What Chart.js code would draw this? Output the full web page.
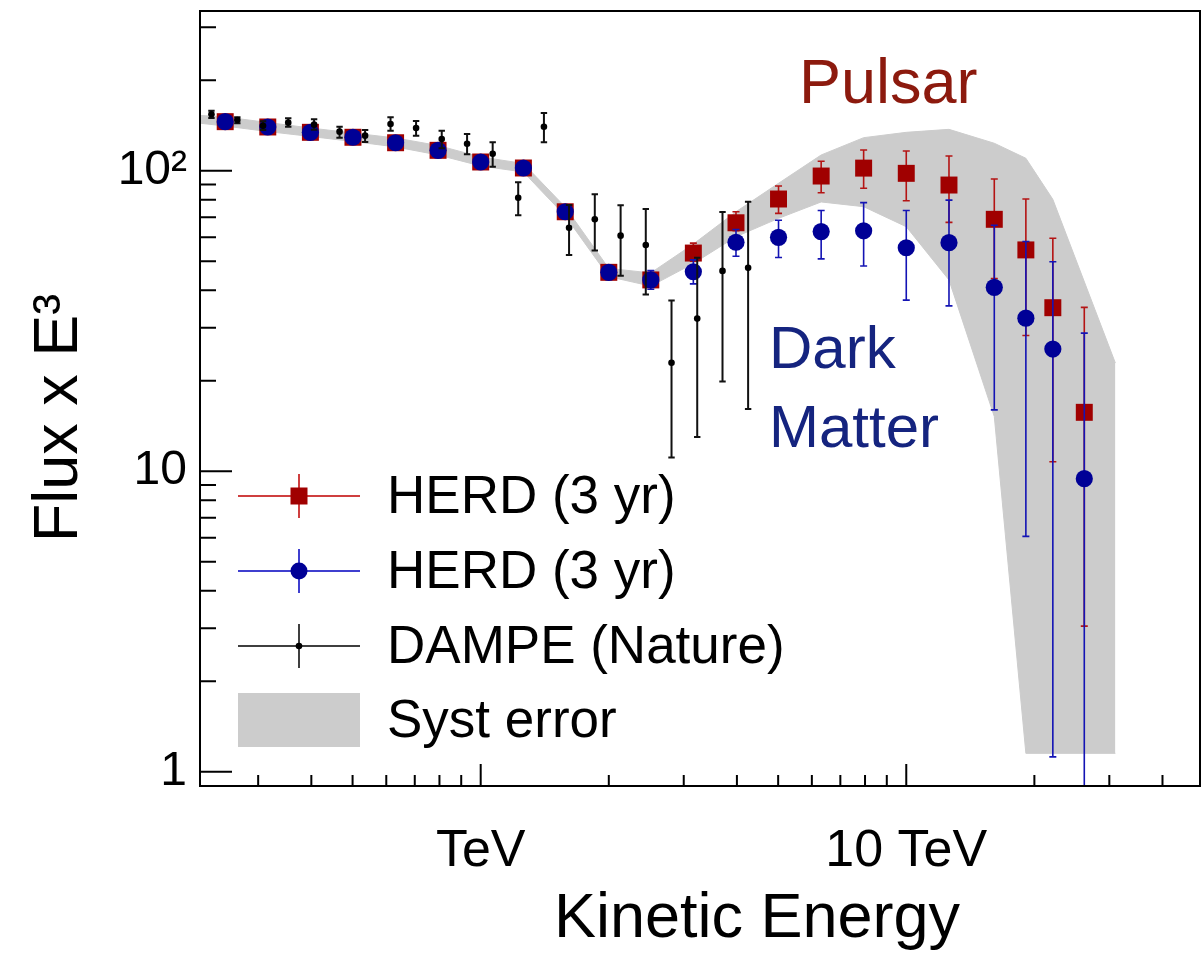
<!DOCTYPE html>
<html>
<head>
<meta charset="utf-8">
<script src="https://cdn.jsdelivr.net/npm/chart.js@4.4.0/dist/chart.umd.min.js"></script>
<style>
  html, body { margin: 0; padding: 0; overflow: hidden; background: #fff; }
  #wrap { position: relative; width: 1203px; height: 956px; }
  #myChart { display: block; }
</style>
</head>
<body>
<div id="wrap"><canvas id="myChart"></canvas></div>
<script>
// HERD (3 yr) projection, energies in TeV
const herdEnergy = [0.251, 0.316, 0.398, 0.501, 0.631, 0.794, 1.0, 1.26, 1.58, 2.0, 2.51,
                    3.16, 3.98, 5.01, 6.31, 7.94, 10.0, 12.6, 16.1, 19.1, 22.1, 26.2];

// pulsar case (red squares)
const pulsarFlux = [145.6, 139.8, 134.2, 129.2, 123.9, 116.9, 106.9, 102.1, 73.0, 45.9, 43.3,
                    53.2, 67.1, 80.5, 96.0, 102.0, 98.0, 89.6, 68.9, 54.5, 35.0, 15.7];
const pulsarHi = [147, 141, 135.5, 130.5, 125.2, 118.2, 108.2, 103.5, 74.2, 47.0, 45.5,
                  57.4, 73.0, 88.9, 107.5, 117.2, 116.3, 111.9, 93.8, 80.5, 59.6, 35.1];
const pulsarLo = [144, 138.5, 133, 128, 122.6, 115.6, 105.6, 100.7, 71.8, 44.8, 41.2,
                  50.0, 63.1, 72.1, 84.5, 87.4, 79.4, 67.3, 43.8, 28.3, 10.75, 3.05];

// dark matter case (blue circles)
const dmFlux = [145.6, 139.8, 134.2, 129.2, 123.9, 116.9, 106.9, 102.1, 73.0, 45.9, 43.3,
                46.1, 57.8, 60.0, 62.7, 63.1, 55.4, 57.6, 40.9, 32.3, 25.5, 9.44];
const dmHi = [147, 141, 135.5, 130.5, 125.2, 118.2, 108.2, 103.5, 74.2, 47.0, 46.5,
              50.5, 63.7, 68.4, 73.7, 78.3, 73.7, 79.8, 65.8, 58.1, 49.8, 28.8];
const dmLo = [144, 138.5, 133, 128, 122.6, 115.6, 105.6, 100.7, 71.8, 44.8, 40.3,
              42.0, 51.9, 51.4, 50.9, 48.2, 37.1, 35.5, 16.0, 6.07, 1.12, 0.5];

// DAMPE (Nature)
const dampeEnergy = [0.233, 0.268, 0.308, 0.353, 0.406, 0.466, 0.535, 0.614, 0.705, 0.810, 0.929,
                     1.067, 1.225, 1.408, 1.613, 1.854, 2.132, 2.443, 2.808, 3.227, 3.700, 4.250];
const dampeFlux = [154.1, 147.5, 141.2, 144.5, 142.3, 134.9, 130.8, 143.0, 138.7, 127.5, 123.0,
                   113.9, 81.3, 140.0, 64.6, 68.9, 60.8, 56.6, 22.96, 32.2, 46.4, 47.5];
const dampeHi = [158.4, 150.6, 146.0, 149.4, 148.3, 140.1, 136.6, 150.6, 146.3, 135.9, 132.4,
                 124.3, 91.5, 155.6, 76.9, 83.5, 76.7, 74.6, 37.0, 51.3, 72.9, 78.9];
const dampeLo = [149.8, 143.8, 136.6, 140.0, 136.9, 128.8, 124.6, 135.9, 130.8, 118.7, 113.4,
                 103.1, 71.1, 124.3, 52.4, 54.3, 44.7, 38.7, 11.1, 13.0, 19.9, 16.1];

// systematic error band
const bandEnergy = [0.2, 0.251, 0.316, 0.398, 0.501, 0.631, 0.794, 1.0, 1.26, 1.58, 2.0, 2.51,
                    3.16, 3.98, 5.01, 6.31, 7.94, 10.0, 12.6, 16.1, 19.1, 22.1, 31.0];
const bandHi = [154, 150.9, 144.7, 138.7, 133.5, 128.5, 121.3, 111.1, 105.7, 75.7, 47.3, 45.7,
                57.0, 73.0, 90.8, 112.8, 128.8, 134.2, 137.3, 123.4, 110.0, 80.3, 22.9];
const bandLo = [146, 140.8, 135, 130, 125.1, 120, 112.8, 103.7, 99, 70.7, 44.4, 41.3,
                49.1, 60.3, 69.4, 78.7, 75.9, 65.1, 43.3, 15.2, 1.151, 1.151, 1.151];

// axes
const xTicks = [0.3, 0.4, 0.5, 0.6, 0.7, 0.8, 0.9, 1, 2, 3, 4, 5, 6, 7, 8, 9, 10, 20, 30, 40];
const xMajor = [1, 10];
const xMajorLabels = ['TeV', '10 TeV'];
const yTicks = [1, 2, 3, 4, 5, 6, 7, 8, 9, 10, 20, 30, 40, 50, 60, 70, 80, 90, 100, 200, 300];
const yMajor = [1, 10, 100];
const yMajorLabels = ['1', '10', '10\u00B2'];

const FONT = "'Liberation Sans', Arial, Helvetica, sans-serif";
const RED = '#a00000';
const BLUE = '#000096';

const pts = (xs, ys) => xs.map((x, i) => ({x: x, y: ys[i]}));

function drawErrors(chart, meta, ds) {
    const ctx = chart.ctx, ys = chart.scales.y, a = chart.chartArea;
    ctx.save();
    ctx.beginPath();
    ctx.rect(a.left, a.top, a.right - a.left, a.bottom - a.top);
    ctx.clip();
    ctx.strokeStyle = ds.errColor;
    ctx.lineWidth = ds.errWidth;
    meta.data.forEach((p, i) => {
        const y1 = ys.getPixelForValue(ds.errHi[i]);
        const y2 = ys.getPixelForValue(ds.errLo[i]);
        ctx.beginPath();
        ctx.moveTo(p.x, y1); ctx.lineTo(p.x, y2);
        ctx.moveTo(p.x - ds.errCap, y1); ctx.lineTo(p.x + ds.errCap, y1);
        ctx.moveTo(p.x - ds.errCap, y2); ctx.lineTo(p.x + ds.errCap, y2);
        ctx.stroke();
    });
    ctx.restore();
}

function legendRow(ctx, y, color, text, marker) {
    ctx.strokeStyle = color;
    ctx.lineWidth = 1.5;
    ctx.beginPath();
    ctx.moveTo(238, y); ctx.lineTo(360, y);
    ctx.moveTo(299, y - 22); ctx.lineTo(299, y + 22);
    ctx.stroke();
    ctx.fillStyle = marker.color;
    ctx.beginPath();
    if (marker.type === 'rect') ctx.rect(299 - 8.5, y - 8.5, 17, 17);
    else ctx.arc(299, y, marker.r, 0, Math.PI * 2);
    ctx.fill();
    ctx.fillStyle = '#000';
    ctx.fillText(text, 387, y + 2);
}

const decor = {
    id: 'decor',
    beforeDatasetDraw(chart, args) {
        const ds = chart.data.datasets[args.index];
        if (ds.errHi) drawErrors(chart, args.meta, ds);
    },
    afterDatasetsDraw(chart) {
        const ctx = chart.ctx, a = chart.chartArea;
        const xs = chart.scales.x, ys = chart.scales.y;
        ctx.save();
        // frame
        ctx.strokeStyle = '#000';
        ctx.lineWidth = 2;
        ctx.strokeRect(a.left, a.top, a.right - a.left, a.bottom - a.top);
        // ticks inside the frame
        ctx.beginPath();
        xs.ticks.forEach(t => {
            const px = xs.getPixelForValue(t.value);
            const len = xMajor.includes(t.value) ? 22 : 11;
            ctx.moveTo(px, a.bottom); ctx.lineTo(px, a.bottom - len);
        });
        ys.ticks.forEach(t => {
            const py = ys.getPixelForValue(t.value);
            const len = yMajor.includes(t.value) ? 32 : 16;
            ctx.moveTo(a.left, py); ctx.lineTo(a.left + len, py);
        });
        ctx.stroke();

        // axis titles
        ctx.fillStyle = '#000';
        ctx.font = '63px ' + FONT;
        ctx.textAlign = 'center';
        ctx.textBaseline = 'alphabetic';
        ctx.fillText('Kinetic Energy', 757, 937);
        ctx.save();
        ctx.translate(77, 418);
        ctx.rotate(-Math.PI / 2);
        ctx.fillText('Flux x E\u00B3', 0, 0);
        ctx.restore();

        // annotations
        ctx.textAlign = 'left';
        ctx.fillStyle = '#8c1a0e';
        ctx.font = '63px ' + FONT;
        ctx.fillText('Pulsar', 799, 103);
        ctx.fillStyle = '#15247f';
        ctx.font = '60px ' + FONT;
        ctx.fillText('Dark', 769, 368);
        ctx.fillText('Matter', 769, 447);

        // legend
        ctx.font = '53px ' + FONT;
        ctx.textBaseline = 'middle';
        legendRow(ctx, 496, '#c00000', 'HERD (3 yr)', {type: 'rect', color: RED});
        legendRow(ctx, 571, '#0000c0', 'HERD (3 yr)', {type: 'circle', color: BLUE, r: 8.5});
        legendRow(ctx, 646, '#000', 'DAMPE (Nature)', {type: 'circle', color: '#000', r: 3.3});
        ctx.fillStyle = '#cccccc';
        ctx.fillRect(238, 693, 122, 54);
        ctx.fillStyle = '#000';
        ctx.fillText('Syst error', 387, 722);
        ctx.restore();
    }
};

const ctx = document.getElementById('myChart').getContext('2d');
const myChart = new Chart(ctx, {
    type: 'line',
    data: {
        datasets: [
            {
                label: 'DAMPE (Nature)',
                data: pts(dampeEnergy, dampeFlux),
                showLine: false,
                pointStyle: 'circle',
                pointRadius: 3.3,
                pointBackgroundColor: '#000',
                pointBorderWidth: 0,
                errHi: dampeHi, errLo: dampeLo, errColor: '#111', errWidth: 2, errCap: 3.2
            },
            {
                label: 'HERD (3 yr)',
                data: pts(herdEnergy, dmFlux),
                showLine: false,
                pointStyle: 'circle',
                pointRadius: 8.6,
                pointBackgroundColor: BLUE,
                pointBorderWidth: 0,
                errHi: dmHi, errLo: dmLo, errColor: '#1414b4', errWidth: 1.6, errCap: 3.5
            },
            {
                label: 'HERD (3 yr)',
                data: pts(herdEnergy, pulsarFlux),
                showLine: false,
                pointStyle: 'rect',
                pointRadius: 12,
                pointBackgroundColor: RED,
                pointBorderWidth: 0,
                errHi: pulsarHi, errLo: pulsarLo, errColor: '#b41414', errWidth: 1.6, errCap: 3.5
            },
            {
                label: 'Syst error',
                data: pts(bandEnergy, bandHi),
                borderColor: '#cccccc',
                borderWidth: 1,
                backgroundColor: '#cccccc',
                pointRadius: 0,
                tension: 0,
                fill: '+1'
            },
            {
                label: 'band low',
                data: pts(bandEnergy, bandLo),
                borderColor: '#cccccc',
                borderWidth: 1,
                pointRadius: 0,
                tension: 0,
                fill: false
            }
        ]
    },
    options: {
        responsive: true,
        maintainAspectRatio: false,
        animation: false,
        layout: { autoPadding: false, padding: { top: 11, right: 3, left: 0, bottom: 0 } },
        plugins: {
            legend: { display: false },
            tooltip: { enabled: false }
        },
        scales: {
            x: {
                type: 'logarithmic',
                min: 0.219,
                max: 49,
                afterFit: s => {
                    s.height = 170;
                    s.paddingLeft = 0; s.paddingRight = 0;
                },
                afterBuildTicks: s => { s.ticks = xTicks.map(v => ({value: v})); },
                grid: { display: false, drawTicks: false },
                border: { display: false },
                ticks: {
                    autoSkip: false,
                    maxRotation: 0,
                    padding: 34,
                    color: '#000',
                    font: { family: FONT, size: 52 },
                    callback: v => {
                        const k = xMajor.indexOf(v);
                        return k >= 0 ? xMajorLabels[k] : '';
                    }
                }
            },
            y: {
                type: 'logarithmic',
                min: 0.896,
                max: 340,
                afterFit: s => {
                    s.width = 200;
                    s.paddingTop = 0; s.paddingBottom = 0;
                },
                afterBuildTicks: s => { s.ticks = yTicks.map(v => ({value: v})); },
                grid: { display: false, drawTicks: false },
                border: { display: false },
                ticks: {
                    autoSkip: false,
                    padding: 13,
                    color: '#000',
                    font: { family: FONT, size: 48 },
                    callback: v => {
                        const k = yMajor.indexOf(v);
                        return k >= 0 ? yMajorLabels[k] : '';
                    }
                }
            }
        }
    },
    plugins: [decor]
});
</script>
</body>
</html>
